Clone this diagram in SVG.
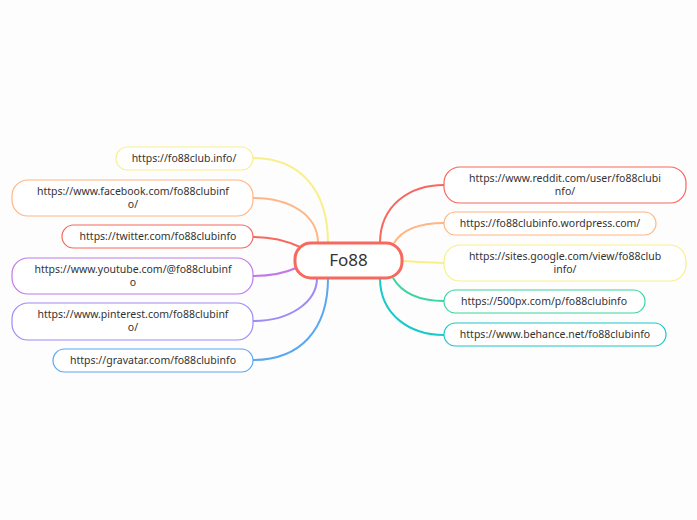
<svg xmlns="http://www.w3.org/2000/svg" width="697" height="520" viewBox="0 0 697 520">
<style>
.n{fill:#fff;stroke-width:1.2}
.t{font-family:"Noto Sans",sans-serif;font-size:10.5px;fill:#333;text-anchor:middle}
.c{fill:none;stroke-width:2}
</style>
<rect width="697" height="520" fill="#fdfdfd"/>
<g id="connectors">
<path class="c" stroke="#f9ef8a" d="M328 243 C328 190 300 158 253 158"/>
<path class="c" stroke="#ffb684" d="M318 243 C318 215 290 198 253 198"/>
<path class="c" stroke="#f7685f" d="M300 247 C285 240 270 237 253 237"/>
<path class="c" stroke="#c07ae8" d="M296 268 C285 273 270 276 253 276"/>
<path class="c" stroke="#a08af5" d="M317 278 C317 302 290 321 253 321"/>
<path class="c" stroke="#5aa8f0" d="M328 278 C328 330 300 360 253 360"/>
<path class="c" stroke="#f7685f" d="M380 243 C380 205 410 185 444 185"/>
<path class="c" stroke="#ffb684" d="M394 243 C402 230 420 223 444 223"/>
<path class="c" stroke="#f9ef8a" d="M402 261 C420 262 430 263 444 263"/>
<path class="c" stroke="#3dd4a0" d="M393 278 C402 293 420 301 444 301"/>
<path class="c" stroke="#1cc8c8" d="M380 278 C380 315 410 335 444 335"/>
</g>
<g id="center"><rect x="295" y="243" width="107" height="35" rx="16" fill="#fff" stroke="#f7685f" stroke-width="3"/><text x="348.5" y="266" font-family="'Noto Sans',sans-serif" font-size="17" fill="#333" text-anchor="middle">Fo88</text></g>
<g id="l1"><rect class="n" x="116" y="147" width="137" height="23" rx="11.5" stroke="#f9ef8a"/><text class="t" x="184" y="162">https://fo88club.info/</text></g>
<g id="l2"><rect class="n" x="12" y="180" width="241" height="36" rx="16" stroke="#ffb684"/><text class="t" x="133" y="195">https://www.facebook.com/fo88clubinf</text><text class="t" x="133" y="208">o/</text></g>
<g id="l3"><rect class="n" x="62" y="225" width="191" height="23" rx="11.5" stroke="#f7685f"/><text class="t" x="158" y="240">https://twitter.com/fo88clubinfo</text></g>
<g id="l4"><rect class="n" x="12" y="258" width="241" height="36" rx="16" stroke="#c07ae8"/><text class="t" x="133" y="273">https://www.youtube.com/@fo88clubinf</text><text class="t" x="133" y="286">o</text></g>
<g id="l5"><rect class="n" x="12" y="303" width="241" height="37" rx="16" stroke="#a08af5"/><text class="t" x="133" y="318">https://www.pinterest.com/fo88clubinf</text><text class="t" x="133" y="331">o/</text></g>
<g id="l6"><rect class="n" x="53" y="349" width="200" height="23" rx="11.5" stroke="#5aa8f0"/><text class="t" x="153" y="364">https://gravatar.com/fo88clubinfo</text></g>
<g id="r1"><rect class="n" x="444" y="167" width="242" height="36" rx="16" stroke="#f7685f"/><text class="t" x="565" y="182">https://www.reddit.com/user/fo88clubi</text><text class="t" x="565" y="195">nfo/</text></g>
<g id="r2"><rect class="n" x="444" y="212" width="212" height="23" rx="11.5" stroke="#ffb684"/><text class="t" x="550" y="227">https://fo88clubinfo.wordpress.com/</text></g>
<g id="r3"><rect class="n" x="444" y="245" width="242" height="36" rx="16" stroke="#f9ef8a"/><text class="t" x="565" y="260">https://sites.google.com/view/fo88club</text><text class="t" x="565" y="273">info/</text></g>
<g id="r4"><rect class="n" x="444" y="290" width="201" height="23" rx="11.5" stroke="#3dd4a0"/><text class="t" x="544" y="305">https://500px.com/p/fo88clubinfo</text></g>
<g id="r5"><rect class="n" x="444" y="323" width="222" height="23" rx="11.5" stroke="#1cc8c8"/><text class="t" x="555" y="338">https://www.behance.net/fo88clubinfo</text></g>
</svg>
